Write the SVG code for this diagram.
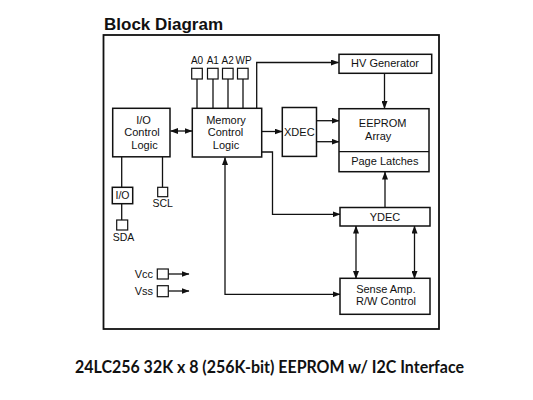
<svg xmlns="http://www.w3.org/2000/svg" width="533" height="400" viewBox="0 0 533 400">
<defs>
<marker id="ah" markerUnits="userSpaceOnUse" markerWidth="8" markerHeight="6" refX="7.5" refY="3" orient="auto-start-reverse">
<path d="M0,0 L8,3 L0,6 z" fill="#111"/>
</marker>
<style>
.box{fill:#fff;stroke:#111;stroke-width:1.5}
.pin{fill:#fff;stroke:#111;stroke-width:1.2}
.ln{fill:none;stroke:#111;stroke-width:1.3}
.t{font-family:"Liberation Sans",Arial,sans-serif;font-size:11px;fill:#111;text-anchor:middle}
.s{font-family:"Liberation Sans",Arial,sans-serif;font-size:10.5px;fill:#111;text-anchor:middle}
.p{font-family:"Liberation Sans",Arial,sans-serif;font-size:10px;fill:#111;text-anchor:middle}
</style>
</defs>
<rect width="533" height="400" fill="#fff"/>
<text x="104" y="29.5" font-family="Liberation Sans,Arial,sans-serif" font-size="17" font-weight="bold" fill="#111">Block Diagram</text>
<rect x="103.5" y="35" width="335.5" height="294" fill="none" stroke="#111" stroke-width="1.8"/>

<g id="connectors">
<line class="ln" x1="197" y1="79" x2="197" y2="108"/>
<line class="ln" x1="213" y1="79" x2="213" y2="108"/>
<line class="ln" x1="228" y1="79" x2="228" y2="108"/>
<line class="ln" x1="243" y1="79" x2="243" y2="108"/>
<polyline class="ln" points="256.7,108 256.7,62.5 338.5,62.5" marker-end="url(#ah)"/>
<line class="ln" x1="170.5" y1="131" x2="192" y2="131" marker-start="url(#ah)" marker-end="url(#ah)"/>
<line class="ln" x1="262" y1="131.5" x2="282" y2="131.5" marker-end="url(#ah)"/>
<line class="ln" x1="316.5" y1="120.7" x2="339" y2="120.7" marker-end="url(#ah)"/>
<line class="ln" x1="316.5" y1="141.7" x2="339" y2="141.7" marker-end="url(#ah)"/>
<line class="ln" x1="384.5" y1="73.5" x2="384.5" y2="108.5" marker-end="url(#ah)"/>
<line class="ln" x1="385" y1="207.5" x2="385" y2="172" marker-end="url(#ah)"/>
<polyline class="ln" points="262,152 272.5,152 272.5,214.3 340,214.3" marker-end="url(#ah)"/>
<line class="ln" x1="356" y1="226" x2="356" y2="278.5" marker-start="url(#ah)" marker-end="url(#ah)"/>
<line class="ln" x1="414.5" y1="226" x2="414.5" y2="278.5" marker-start="url(#ah)" marker-end="url(#ah)"/>
<polyline class="ln" points="340,294.3 225,294.3 225,157.5" marker-start="url(#ah)" marker-end="url(#ah)"/>
<line class="ln" x1="121.7" y1="157" x2="121.7" y2="187.3"/>
<line class="ln" x1="121.7" y1="203.7" x2="121.7" y2="220"/>
<line class="ln" x1="162.5" y1="157" x2="162.5" y2="187.3"/>
<line class="ln" x1="168.3" y1="274" x2="189" y2="274" marker-end="url(#ah)"/>
<line class="ln" x1="168.3" y1="291" x2="189" y2="291" marker-end="url(#ah)"/>
</g>

<g id="pin-A0"><rect class="pin" x="191.7" y="68.3" width="10.6" height="10.7"/><text class="p" x="197" y="64.3">A0</text></g>
<g id="pin-A1"><rect class="pin" x="207.5" y="68.3" width="10.6" height="10.7"/><text class="p" x="212.8" y="64.3">A1</text></g>
<g id="pin-A2"><rect class="pin" x="222.5" y="68.3" width="10.6" height="10.7"/><text class="p" x="227.6" y="64.3">A2</text></g>
<g id="pin-WP"><rect class="pin" x="237.5" y="68.3" width="10.6" height="10.7"/><text class="p" x="243.5" y="64.3">WP</text></g>

<g id="io-control"><rect class="box" x="112.7" y="108.3" width="57.3" height="48.5"/>
<text class="t" x="143.5" y="123.5">I/O</text><text class="t" x="142" y="136">Control</text><text class="t" x="144.5" y="148.5">Logic</text></g>

<g id="memory-control"><rect class="box" x="192.3" y="108.3" width="69.4" height="48.7"/>
<text class="t" x="226" y="123.5">Memory</text><text class="t" x="225.5" y="136">Control</text><text class="t" x="226" y="148.5">Logic</text></g>

<g id="xdec"><rect class="box" x="282.3" y="107.5" width="34.2" height="48.9"/><text class="t" x="299.3" y="135.7">XDEC</text></g>

<g id="hv-generator"><rect class="box" x="339" y="54.3" width="92.7" height="19"/><text class="t" x="385" y="67">HV Generator</text></g>

<g id="eeprom-array"><rect class="box" x="339" y="108.7" width="90" height="63"/>
<line class="ln" x1="339" y1="151.7" x2="429" y2="151.7" stroke-width="1.5"/>
<text class="t" x="382.7" y="127.3">EEPROM</text><text class="t" x="378.2" y="139.5">Array</text>
<text class="t" x="384.8" y="165">Page Latches</text></g>

<g id="ydec"><rect class="box" x="340" y="207.5" width="90" height="18.5"/><text class="t" x="385" y="220.5">YDEC</text></g>

<g id="sense-amp"><rect class="box" x="340" y="278.3" width="90" height="36"/>
<text class="t" x="385.8" y="292.7">Sense Amp.</text><text class="t" x="386" y="304.5">R/W Control</text></g>

<g id="io-buffer"><rect class="box" x="112.3" y="187.3" width="20.4" height="16.4"/><text class="s" x="122.5" y="198.8">I/O</text></g>
<g id="pin-SDA"><rect class="pin" x="116.7" y="220" width="11" height="10"/><text class="s" x="123.5" y="241">SDA</text></g>
<g id="pin-SCL"><rect class="pin" x="157.7" y="187.3" width="10" height="9.4"/><text class="s" x="162.7" y="207">SCL</text></g>
<g id="pin-Vcc"><rect class="pin" x="157.3" y="269" width="11" height="10"/><text class="t" x="153" y="277.5" style="text-anchor:end">Vcc</text></g>
<g id="pin-Vss"><rect class="pin" x="157.3" y="285.7" width="11" height="11"/><text class="t" x="153" y="294.5" style="text-anchor:end">Vss</text></g>

<text x="269.5" y="372.5" font-family="Lato,'Open Sans',sans-serif" font-size="16.5" font-weight="bold" fill="#111" text-anchor="middle" textLength="389" lengthAdjust="spacingAndGlyphs">24LC256 32K x 8 (256K-bit) EEPROM w/ I2C Interface</text>
</svg>
